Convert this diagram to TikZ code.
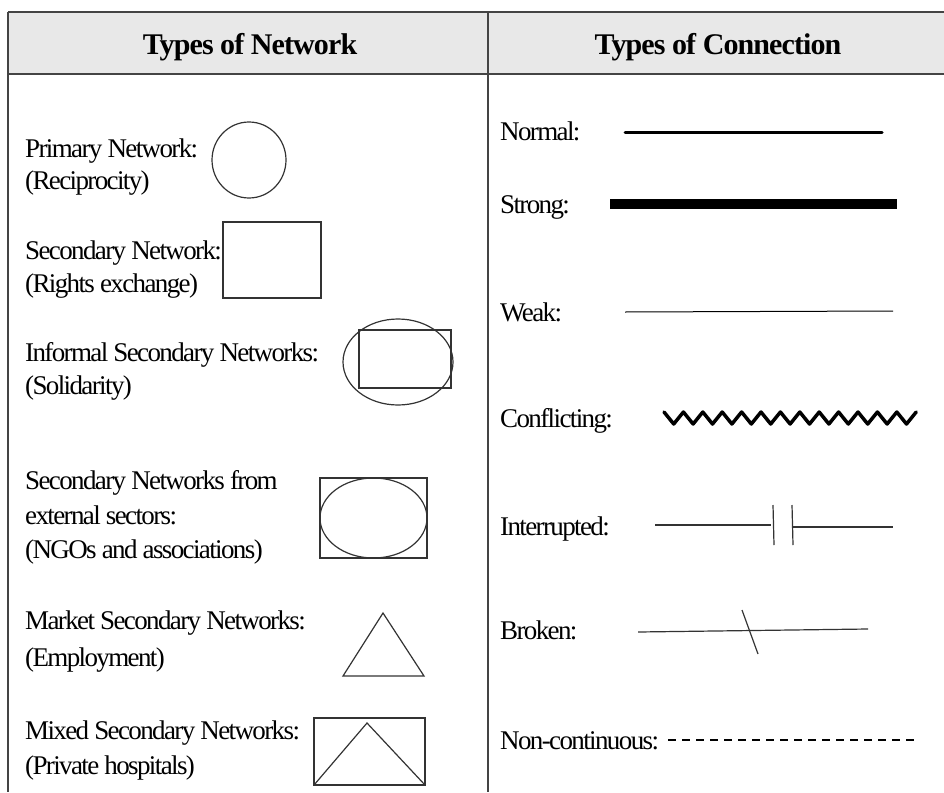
\documentclass[tikz,border=0pt]{standalone}
\usepackage{fontspec}
\setmainfont{Liberation Serif}
\newfontfamily\lblfont[LetterSpace=-6]{Liberation Serif}
\newfontfamily\hdrfont[LetterSpace=-3]{Liberation Serif}
\definecolor{hdrfill}{HTML}{E8E8E8}
\definecolor{rulec}{HTML}{444444}
\definecolor{shapec}{HTML}{333333}
\tikzset{
  lbl/.style={anchor=base west, inner sep=0pt, font=\lblfont\fontsize{27}{33}\selectfont},
  hdr/.style={anchor=base, inner sep=0pt, font=\hdrfont\fontsize{30}{34}\selectfont\bfseries},
  rulel/.style={draw=rulec, line width=1.8pt},
  shp/.style={draw=shapec, line width=1.2pt},
}
\begin{document}
\begin{tikzpicture}[x=1pt,y=-1pt]
\useasboundingbox (0,0) rectangle (944,792);
% table
\fill[hdrfill] (8,12) rectangle (944,74);
\draw[rulel] (8,12) -- (944,12);
\draw[rulel] (8,74) -- (944,74);
\draw[rulel] (8,12) -- (8,792);
\draw[rulel] (488,12) -- (488,792);
\node[hdr] (h1) at (250,55) {Types of Network};
\node[hdr] (h2) at (718,55) {Types of Connection};
% left labels
\node[lbl] (l1a) at (25,157) {Primary Network:};
\node[lbl] (l1b) at (25,189) {(Reciprocity)};
\node[lbl] (l2a) at (25,259) {Secondary Network:};
\node[lbl] (l2b) at (25,292) {(Rights exchange)};
\node[lbl] (l3a) at (25,361) {Informal Secondary Networks:};
\node[lbl] (l3b) at (25,394) {(Solidarity)};
\node[lbl] (l4a) at (25,489) {Secondary Networks from};
\node[lbl] (l4b) at (25,524) {external sectors:};
\node[lbl] (l4c) at (25,558) {(NGOs and associations)};
\node[lbl] (l5a) at (25,629) {Market Secondary Networks:};
\node[lbl] (l5b) at (25,666) {(Employment)};
\node[lbl] (l6a) at (25,739) {Mixed Secondary Networks:};
\node[lbl] (l6b) at (25,774) {(Private hospitals)};
% left shapes
\draw[shp] (249,160) ellipse [x radius=37, y radius=38];
\draw[shp] (223,222) rectangle (321,298);
\draw[shp] (398,362) ellipse [x radius=55, y radius=43];
\draw[shp] (359,330) rectangle (451,388);
\draw[shp] (320,478) rectangle (427,558);
\draw[shp] (373.5,518) ellipse [x radius=53.5, y radius=40];
\draw[shp] (383,613) -- (424,676) -- (343,676) -- cycle;
\draw[shp] (314,718) rectangle (425,785);
\draw[shp] (314,785) -- (367,723) -- (425,785);
% right labels
\node[lbl] (r1) at (500,140) {Normal:};
\node[lbl] (r2) at (500,213) {Strong:};
\node[lbl] (r3) at (500,321) {Weak:};
\node[lbl] (r4) at (500,427) {Conflicting:};
\node[lbl] (r5) at (500,535) {Interrupted:};
\node[lbl] (r6) at (500,639) {Broken:};
\node[lbl] (r7) at (500,749) {Non-continuous:};
% connection samples
\draw[line width=3pt, line cap=round] (625,132) -- (882,132);
\draw[line width=10pt] (610,204) -- (897,204);
\draw[line width=1pt] (625,312) -- (893,311);
\draw[line width=3.5pt, line join=round, line cap=round] (664,412)
  \foreach \i in {1,...,26} { -- ({664+\i*9.7},{418-6*cos(180*\i)}) };
\draw[line width=1.2pt, shapec] (655,525) -- (771,525);
\draw[line width=1.2pt, shapec] (773,505) -- (774,545);
\draw[line width=1.2pt, shapec] (792,505) -- (793,545);
\draw[line width=1.2pt, shapec] (793,527) -- (893,527);
\draw[line width=1.2pt, shapec] (638,632) -- (868,629);
\draw[line width=1.2pt, shapec] (742,610) -- (758,654);
\draw[line width=1.5pt, dash pattern=on 8pt off 6pt] (668,740) -- (917,740);
\end{tikzpicture}
\end{document}
